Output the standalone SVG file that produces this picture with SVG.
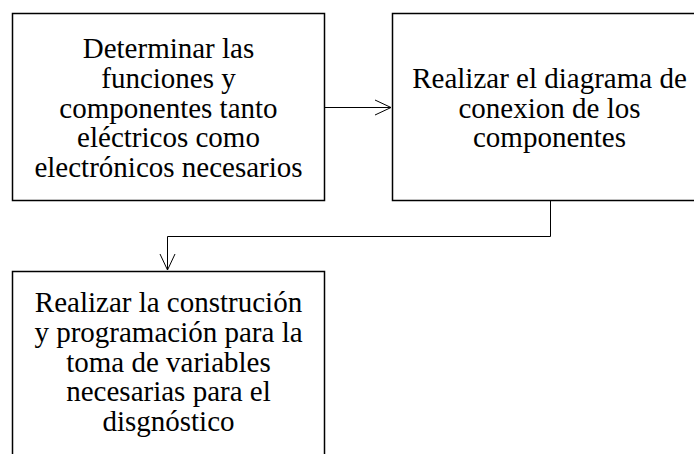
<svg xmlns="http://www.w3.org/2000/svg" width="694" height="454" viewBox="0 0 694 454">
<style>
.box{fill:#fff;stroke:#000;stroke-width:1.5}
.t{font-family:'Liberation Serif','DejaVu Serif',serif;font-size:29px;fill:#000;text-anchor:middle}
.c{fill:none;stroke:#000;stroke-width:1}
</style>
<defs>
<marker id="arr" viewBox="0 0 20 20" refX="18" refY="10" markerWidth="20" markerHeight="20" markerUnits="userSpaceOnUse" orient="auto">
<path d="M2,2.5 L18,10 L2,17.5" fill="none" stroke="#000" stroke-width="1"/>
</marker>
</defs>
<g id="node1">
<rect class="box" x="12.5" y="13.5" width="312" height="187"/>
<text class="t" font-family="Liberation Serif, serif"><tspan x="168.5" y="58">Determinar las</tspan><tspan x="168.5" y="88">funciones y</tspan><tspan x="168.5" y="117.5">componentes tanto</tspan><tspan x="168.5" y="147">eléctricos como</tspan><tspan x="168.5" y="177">electrónicos necesarios</tspan></text>
</g>
<g id="node2">
<rect class="box" x="392.5" y="13.5" width="315" height="187"/>
<text class="t" font-family="Liberation Serif, serif"><tspan x="549.5" y="88">Realizar el diagrama de</tspan><tspan x="549.5" y="117.5">conexion de los</tspan><tspan x="549.5" y="147">componentes</tspan></text>
</g>
<g id="node3">
<rect class="box" x="12.5" y="271.5" width="312" height="200"/>
<text class="t" font-family="Liberation Serif, serif"><tspan x="168.5" y="312">Realizar la construción</tspan><tspan x="168.5" y="342">y programación para la</tspan><tspan x="168.5" y="372">toma de variables</tspan><tspan x="168.5" y="401">necesarias para el</tspan><tspan x="168.5" y="431">disgnóstico</tspan></text>
</g>
<g id="connectors">
<path class="c" d="M325,107.5 H391" marker-end="url(#arr)"/>
<path class="c" d="M550.5,201 V236.5 H167.5 V270" marker-end="url(#arr)"/>
</g>
</svg>
